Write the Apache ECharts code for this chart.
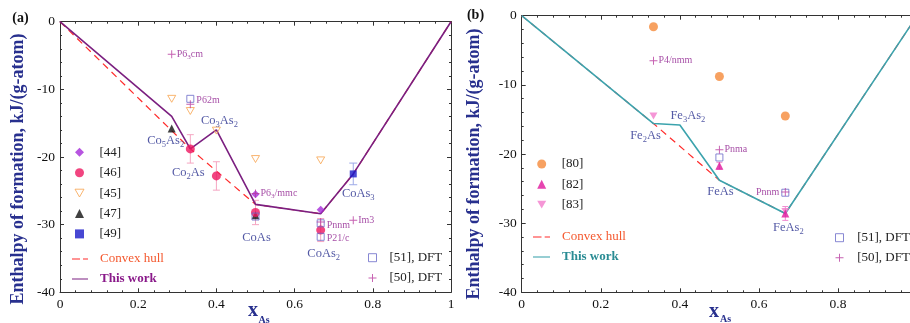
<!DOCTYPE html>
<html><head><meta charset="utf-8">
<script src="https://cdn.jsdelivr.net/npm/echarts@6/dist/echarts.min.js"></script>
<style>
html,body{margin:0;padding:0;background:#fff;width:910px;height:323px;overflow:hidden}
#a,#b{position:absolute;top:0;width:455px;height:323px}
#a{left:0}#b{left:455px}
</style>
</head><body><div id="a"></div><div id="b"></div>
<script>
// ---------------- shared axis ticks ----------------
const xTickValues = [0, 0.2, 0.4, 0.6, 0.8, 1];
const yTickValues = [-40, -30, -20, -10, 0];

// ---------------- panel (a): Co–As ----------------
const aThisWork = [[0,0],[0.2857,-14],[0.3333,-18.8],[0.4,-16],[0.5,-27],[0.6667,-28.4],[0.75,-22.5],[1,0]];
const aHull = [[0,0],[0.3333,-18.8],[0.5,-27],[0.6667,-28.4],[0.75,-22.5],[1,0]];
const a44 = [[0.5,-25.5],[0.6667,-27.8]];
const a46 = [[0.3333,-18.8],[0.4,-22.8],[0.5,-28.2],[0.6667,-30.8]];
const a46Err = [2.1, 2.1, 1.8, 1.7];
const a45 = [[0.2857,-11.4],[0.3333,-13.2],[0.4,-16.1],[0.5,-20.3],[0.6667,-20.5]];
const a47 = [[0.2857,-15.8],[0.5,-28.6]];
const a49 = [[0.75,-22.5]];
const a49Err = [1.6];
const a51 = [[0.3333,-11.4],[0.5,-28.8],[0.6667,-29.8],[0.6667,-31.8]];
const a51Names = ['P62m', '', 'Pnnm', 'P21/c'];
const a50 = [[0.2857,-4.8],[0.3333,-12.2],[0.5,-25.4],[0.6667,-29.6],[0.75,-29.35]];
const a50Names = ['P6_3cm', '', 'P6_3/mmc', '', 'Im3'];
const aCompounds = ['Co5As2','Co3As2','Co2As','CoAs','CoAs2','CoAs3'];
const aCompoundPts = [[0.2857,-14],[0.4,-16],[0.3333,-18.8],[0.5,-27],[0.6667,-28.4],[0.75,-22.5]];

// ---------------- panel (b): Fe–As ----------------
const bThisWork = [[0,0],[0.3333,-15.6],[0.4,-15.8],[0.5,-23.8],[0.6667,-28.6],[1,0]];
const bHull = [[0,0],[0.3333,-15.6],[0.5,-23.8],[0.6667,-28.6],[1,0]];
const b80 = [[0.3333,-1.6],[0.5,-8.8],[0.6667,-14.5]];
const b82 = [[0.5,-21.7],[0.6667,-28.6]];
const b82Err = [0.5, 1.0];
const b83 = [[0.3333,-14.5],[0.6667,-28.3]];
const b51 = [[0.5,-20.5],[0.6667,-25.6]];
const b51Names = ['', 'Pnnm'];
const b50 = [[0.3333,-6.5],[0.5,-19.4],[0.6667,-25.5]];
const b50Names = ['P4/nmm', 'Pnma', ''];
const bCompounds = ['Fe2As','Fe3As2','FeAs','FeAs2'];
const bCompoundPts = [[0.3333,-15.6],[0.4,-15.8],[0.5,-23.8],[0.6667,-28.6]];

// ---------------- styling helpers ----------------
const FONT = '"Liberation Serif","Times New Roman",serif';
const NAVY = '#28308e';
const SGCOL = '#8e1f8e';
const PLUS = 'path://M4.4,0H5.6V4.4H10V5.6H5.6V10H4.4V5.6H0V4.4H4.4Z';
const DOWN_TRI = 'path://M0,0H10L5,8.66Z';
const DASH_ICON = 'path://M0,0H8V1H0ZM11,0H16V1H11Z';
const SOLID_ICON = 'path://M0,0H16V1H0Z';

function compoundRich(s){
  return s.replace(/(\D+)|(\d+)/g, (m, a, d) => a ? '{m|' + a + '}' : '{s|' + d + '}');
}
function sgRich(s){
  return s.split(/_(\d)/).map((p, i) => p === '' ? '' : (i % 2 ? '{u|' + p + '}' : '{t|' + p + '}')).join('');
}
const compoundRichStyle = {
  m: {fontFamily: FONT, fontSize: 12.5, color: NAVY, lineHeight: 17},
  s: {fontFamily: FONT, fontSize: 8.5, color: NAVY, verticalAlign: 'bottom'}
};
const sgRichStyle = {
  t: {fontFamily: FONT, fontSize: 10, color: SGCOL, lineHeight: 13},
  u: {fontFamily: FONT, fontSize: 7, color: SGCOL, verticalAlign: 'bottom'}
};

function axes(){
  const tickCol = '#333';
  const common = {
    type: 'value', splitLine: {show: false},
    axisLine: {show: true, onZero: false, lineStyle: {color: tickCol, width: 1}},
    axisTick: {show: true, inside: true, length: 4, lineStyle: {color: tickCol}},
    minorTick: {show: true, splitNumber: 5, length: 2, lineStyle: {color: tickCol}}
  };
  const xmin = xTickValues[0], xmax = xTickValues[xTickValues.length - 1];
  const ymin = yTickValues[0], ymax = yTickValues[yTickValues.length - 1];
  const xi = xTickValues[1] - xTickValues[0], yi = yTickValues[1] - yTickValues[0];
  const lab = {color: '#111', fontFamily: FONT, fontSize: 13.5};
  return {
    xAxis: [
      Object.assign({}, common, {min: xmin, max: xmax, interval: xi, position: 'bottom', axisLabel: Object.assign({margin: 5}, lab)}),
      Object.assign({}, common, {min: xmin, max: xmax, interval: xi, position: 'top', axisLabel: {show: false}})
    ],
    yAxis: [
      Object.assign({}, common, {min: ymin, max: ymax, interval: yi, position: 'left', axisLabel: Object.assign({margin: 5}, lab)}),
      Object.assign({}, common, {min: ymin, max: ymax, interval: yi, position: 'right', axisLabel: {show: false}})
    ]
  };
}

function errorBars(points, errs, color, capW){
  return {
    type: 'custom', silent: true, z: 3,
    data: points.map((p, i) => [p[0], p[1] - errs[i], p[1] + errs[i]]),
    encode: {x: 0, y: [1, 2]},
    renderItem: (params, api) => {
      const lo = api.coord([api.value(0), api.value(1)]);
      const hi = api.coord([api.value(0), api.value(2)]);
      const h = capW / 2, st = {stroke: color, lineWidth: 1};
      return {type: 'group', children: [
        {type: 'line', shape: {x1: lo[0], y1: lo[1], x2: hi[0], y2: hi[1]}, style: st},
        {type: 'line', shape: {x1: lo[0] - h, y1: lo[1], x2: lo[0] + h, y2: lo[1]}, style: st},
        {type: 'line', shape: {x1: hi[0] - h, y1: hi[1], x2: hi[0] + h, y2: hi[1]}, style: st}
      ]};
    }
  };
}

function scatter(name, pts, symbol, size, itemStyle, extra){
  return Object.assign({
    name, type: 'scatter', data: pts, symbol, symbolSize: size, symbolKeepAspect: true,
    itemStyle, z: 5
  }, extra || {});
}

function labeledPts(pts, names, pos, dist, off){
  return pts.map((p, i) => names[i] ? {
    value: p,
    label: {show: true, position: pos, distance: dist, offset: off || [0, 0],
      formatter: sgRich(names[i]), rich: sgRichStyle}
  } : {value: p});
}

function compoundSeries(pts, names, offsets){
  return {
    type: 'scatter', silent: true, z: 6, symbolSize: 1,
    itemStyle: {color: 'transparent'},
    data: pts.map((p, i) => ({
      value: p,
      label: {show: true, position: 'inside', offset: offsets[i],
        formatter: compoundRich(names[i]), rich: compoundRichStyle}
    }))
  };
}

function lineSeries(name, pts, color, width, type, z){
  return {name, type: 'line', data: pts, symbol: 'none', z,
    lineStyle: {color, width, type}, itemStyle: {color}};
}

const legendText = {fontFamily: FONT, fontSize: 13, color: '#222', lineHeight: 20};
function padText(px, extra){ return Object.assign({}, legendText, {padding: [0, 0, 0, px]}, extra || {}); }

const openTri = {color: 'transparent', borderColor: '#f7a24c', borderWidth: 1};
const openSq = {color: 'transparent', borderColor: '#6a6ac8', borderWidth: 1};

// ---------------- chart (a) ----------------
const chartA = echarts.init(document.getElementById('a'), null, {renderer: 'canvas'});
const ax = axes();
chartA.setOption({
  animation: false,
  backgroundColor: '#fff',
  grid: {left: 60, top: 21.7, width: 391, height: 270.6, containLabel: false, outerBoundsMode: 'none'},
  xAxis: ax.xAxis, yAxis: ax.yAxis,
  legend: [
    {data: ['[44]','[46]',{name: '[45]', icon: DOWN_TRI, itemStyle: openTri},'[47]','[49]'], orient: 'vertical', left: 74.5, top: 142.3, padding: 0,
     itemWidth: 9, itemHeight: 9, itemGap: 0.4, selectedMode: false, textStyle: padText(10.5),
     itemStyle: {borderWidth: 0}},
    {data: [{name: 'Convex hull', icon: DASH_ICON, textStyle: {color: '#f4582e'}},
            {name: 'This work', icon: SOLID_ICON, textStyle: {color: '#8a1a8a', fontWeight: 'bold'}}],
     orient: 'vertical', left: 72, top: 249, padding: 0, itemWidth: 16, itemHeight: 1.4, itemGap: 0,
     selectedMode: false, textStyle: padText(7), itemStyle: {borderWidth: 0}},
    {data: [{name: '[51], DFT', itemStyle: openSq}, {name: '[50], DFT'}],
     orient: 'vertical', left: 368, top: 247.7, padding: 0, itemWidth: 8, itemHeight: 8, itemGap: 0.3,
     selectedMode: false, textStyle: padText(8)}
  ],
  graphic: [
    {type: 'text', x: 20.5, y: 18, style: {text: '(a)', font: 'bold 14px ' + FONT, fill: '#111', align: 'center', verticalAlign: 'middle', textAlign: 'center', textVerticalAlign: 'middle'}},
    {type: 'text', x: 18.5, y: 169, rotation: Math.PI / 2, style: {text: 'Enthalpy of formation, kJ/(g-atom)', font: 'bold 18px ' + FONT, fill: NAVY, align: 'center', verticalAlign: 'middle', textAlign: 'center', textVerticalAlign: 'middle'}},
    {type: 'text', x: 253, y: 311, style: {text: 'x', font: 'bold 20px ' + FONT, fill: NAVY, align: 'center', verticalAlign: 'middle', textAlign: 'center', textVerticalAlign: 'middle'}},
    {type: 'text', x: 258.5, y: 320, style: {text: 'As', font: 'bold 10px ' + FONT, fill: NAVY, align: 'left', verticalAlign: 'middle', textAlign: 'left', textVerticalAlign: 'middle'}}
  ],
  series: [
    lineSeries('Convex hull', aHull, '#ff2a2a', 1.2, [7, 5], 2),
    lineSeries('This work', aThisWork, '#7b1f80', 1.6, 'solid', 3),
    errorBars(a46, a46Err, '#f5a6c2', 7),
    errorBars(a49, a49Err, '#9eaae8', 8),
    scatter('[45]', a45, DOWN_TRI, 8, openTri),
    scatter('[47]', a47, 'triangle', 8, {color: '#111'}),
    scatter('[49]', a49, 'rect', 7, {color: '#1a1ac8'}),
    scatter('[46]', a46, 'circle', 9, {color: '#ee1660'}),
    scatter('[44]', a44, 'diamond', 8, {color: '#a52ad8'}),
    scatter('[51], DFT', labeledPts(a51, a51Names, 'right', 2, [0, 2]), 'rect', 7, openSq),
    scatter('[50], DFT', labeledPts(a50, a50Names, 'right', 1, [0, 0]), PLUS, 8, {color: '#b8389e'}),
    compoundSeries(aCompoundPts, aCompounds, [[-6,24],[3,-9],[-2,24],[1,33],[3,40],[5,20]])
  ]
});

// ---------------- chart (b) ----------------
const chartB = echarts.init(document.getElementById('b'), null, {renderer: 'canvas'});
const bx = axes();
chartB.setOption({
  animation: false,
  backgroundColor: '#fff',
  grid: {left: 66.7, top: 15.7, width: 395.4, height: 276.6, containLabel: false, outerBoundsMode: 'none'},
  xAxis: bx.xAxis, yAxis: bx.yAxis,
  legend: [
    {data: ['[80]','[82]',{name: '[83]', icon: DOWN_TRI}], orient: 'vertical', left: 82.2, top: 154, padding: 0,
     itemWidth: 9, itemHeight: 9, itemGap: 0.3, selectedMode: false, textStyle: padText(10.5),
     itemStyle: {borderWidth: 0}},
    {data: [{name: 'Convex hull', icon: DASH_ICON, textStyle: {color: '#f4582e'}},
            {name: 'This work', icon: SOLID_ICON, textStyle: {color: '#2a8c94', fontWeight: 'bold'}}],
     orient: 'vertical', left: 78, top: 227, padding: 0, itemWidth: 17, itemHeight: 1.4, itemGap: 0,
     selectedMode: false, textStyle: padText(7), itemStyle: {borderWidth: 0}},
    {data: [{name: '[51], DFT', itemStyle: openSq}, {name: '[50], DFT'}],
     orient: 'vertical', left: 380, top: 227.7, padding: 0, itemWidth: 8, itemHeight: 8, itemGap: 0,
     selectedMode: false, textStyle: padText(8.7)}
  ],
  graphic: [
    {type: 'text', x: 20.5, y: 15.3, style: {text: '(b)', font: 'bold 14px ' + FONT, fill: '#111', align: 'center', verticalAlign: 'middle', textAlign: 'center', textVerticalAlign: 'middle'}},
    {type: 'text', x: 19.5, y: 164, rotation: Math.PI / 2, style: {text: 'Enthalpy of formation, kJ/(g-atom)', font: 'bold 18px ' + FONT, fill: NAVY, align: 'center', verticalAlign: 'middle', textAlign: 'center', textVerticalAlign: 'middle'}},
    {type: 'text', x: 259, y: 312, style: {text: 'x', font: 'bold 20px ' + FONT, fill: NAVY, align: 'center', verticalAlign: 'middle', textAlign: 'center', textVerticalAlign: 'middle'}},
    {type: 'text', x: 265, y: 319, style: {text: 'As', font: 'bold 10px ' + FONT, fill: NAVY, align: 'left', verticalAlign: 'middle', textAlign: 'left', textVerticalAlign: 'middle'}}
  ],
  series: [
    lineSeries('Convex hull', bHull, '#ff2a2a', 1.2, [7, 5], 2),
    lineSeries('This work', bThisWork, '#3ba3ad', 1.6, 'solid', 3),
    errorBars(b82, b82Err, '#f08ad0', 6),
    scatter('[80]', b80, 'circle', 9, {color: '#f5893a'}),
    scatter('[83]', b83, DOWN_TRI, 8, {color: '#f27ccc'}),
    scatter('[82]', b82, 'triangle', 8, {color: '#e0169c'}),
    scatter('[51], DFT', labeledPts(b51, b51Names, 'left', 2, [0, 0]), 'rect', 7, openSq),
    scatter('[50], DFT', labeledPts(b50, b50Names, 'right', 1, [0, 0]), PLUS, 8, {color: '#b8389e'}),
    compoundSeries(bCompoundPts, bCompounds, [[-8,12],[8,-9],[1,11],[3,14]])
  ]
});
</script>
</body></html>
